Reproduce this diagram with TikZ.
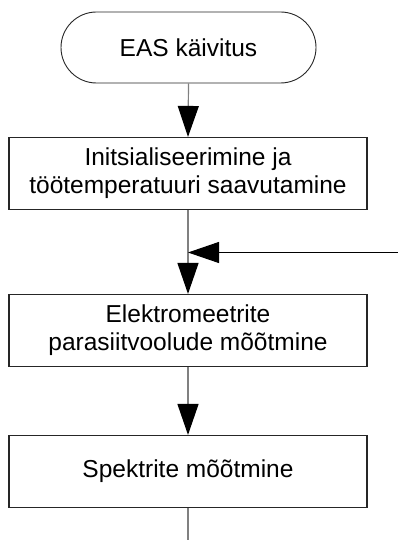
\documentclass[tikz,border=0pt]{standalone}
\usepackage{fontspec}
\setmainfont{Liberation Sans}
\usetikzlibrary{arrows.meta}
\tikzset{
  stepbox/.style={draw=black!85, line width=1.1pt, minimum width=358pt, minimum height=72pt, inner sep=0pt, align=center, font=\fontsize{24.5}{28}\selectfont},
  termbox/.style={draw=black!85, line width=0.9pt, minimum width=255pt, minimum height=71pt, rounded corners=35.5pt, inner sep=0pt, align=center, font=\fontsize{24.5}{28}\selectfont},
  conn/.style={draw=black!50, line width=1.2pt, -{Triangle[length=31pt, width=21pt, color=black, fill=black]}},
  hconn/.style={draw=black, line width=1pt, -{Triangle[length=31pt, width=21pt, color=black, fill=black]}},
  plain/.style={draw=black!50, line width=1.2pt}
}
\begin{document}
\begin{tikzpicture}[x=1pt, y=-1pt]
\useasboundingbox (0,0) rectangle (398,540);
\node[termbox] (start) at (188.5,47.5) {EAS käivitus};
\node[stepbox] (init) at (188,173.5) {Initsialiseerimine ja\\töötemperatuuri saavutamine};
\node[stepbox] (para) at (188,330.5) {Elektromeetrite\\parasiitvoolude mõõtmine};
\node[stepbox] (spek) at (188,471.5) {Spektrite mõõtmine};
\coordinate (join) at (188,252.5);
\coordinate (loopin) at (398,252.5);
\coordinate (out) at (188,541);
\draw[conn] (start.south) -- (init.north);
\draw[plain] (init.south) -- (join);
\draw[conn] (join) -- (para.north);
\draw[hconn] (loopin) -- (join);
\draw[conn] (para.south) -- (spek.north);
\draw[plain] (spek.south) -- (out);
\end{tikzpicture}
\end{document}
